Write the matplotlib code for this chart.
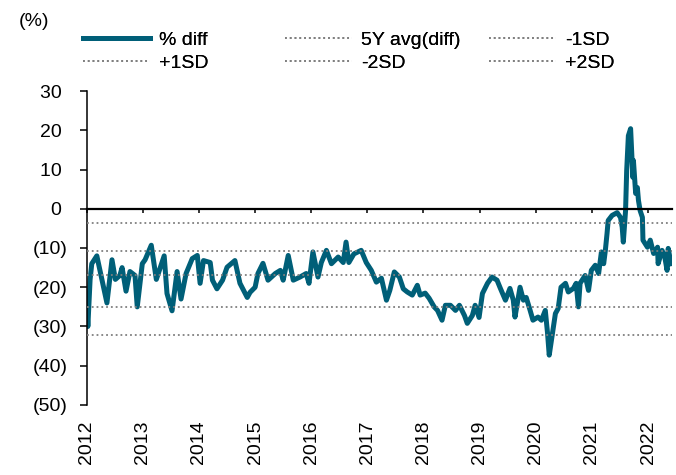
import matplotlib
matplotlib.use("Agg")
import matplotlib.pyplot as plt
from matplotlib.lines import Line2D

plt.rcParams['font.family'] = ['Liberation Sans', 'DejaVu Sans']

# % diff (decimal year, value)
t_years = [
    2012.00, 2012.02, 2012.06, 2012.09, 2012.18, 2012.27, 2012.36, 2012.45, 2012.51, 2012.59,
    2012.63, 2012.70, 2012.77, 2012.86, 2012.90, 2012.99, 2013.04, 2013.15, 2013.24, 2013.31,
    2013.38, 2013.43, 2013.52, 2013.61, 2013.68, 2013.77, 2013.88, 2013.97, 2014.02, 2014.08,
    2014.20, 2014.24, 2014.32, 2014.42, 2014.50, 2014.64, 2014.73, 2014.86, 2014.91, 2015.00,
    2015.05, 2015.14, 2015.23, 2015.36, 2015.45, 2015.50, 2015.59, 2015.68, 2015.80, 2015.91,
    2015.96, 2016.03, 2016.12, 2016.18, 2016.27, 2016.36, 2016.48, 2016.57, 2016.62, 2016.67,
    2016.76, 2016.89, 2016.98, 2017.07, 2017.16, 2017.25, 2017.34, 2017.40, 2017.48, 2017.57,
    2017.64, 2017.71, 2017.80, 2017.89, 2017.94, 2018.03, 2018.10, 2018.19, 2018.25, 2018.33,
    2018.39, 2018.48, 2018.57, 2018.64, 2018.73, 2018.78, 2018.87, 2018.92, 2018.99, 2019.05,
    2019.14, 2019.22, 2019.31, 2019.37, 2019.46, 2019.54, 2019.60, 2019.63, 2019.72, 2019.78,
    2019.83, 2019.90, 2019.95, 2020.04, 2020.10, 2020.17, 2020.21, 2020.24, 2020.28, 2020.35,
    2020.40, 2020.45, 2020.53, 2020.58, 2020.67, 2020.72, 2020.76, 2020.79, 2020.88, 2020.94,
    2020.99, 2021.06, 2021.12, 2021.17, 2021.21, 2021.24, 2021.27, 2021.29, 2021.36, 2021.45,
    2021.51, 2021.54, 2021.56, 2021.60, 2021.62, 2021.65, 2021.69, 2021.73, 2021.74, 2021.78,
    2021.81, 2021.83, 2021.86, 2021.90, 2021.91, 2021.99, 2022.04, 2022.10, 2022.17, 2022.18,
    2022.25, 2022.30, 2022.34, 2022.36, 2022.41,
]
diff_pct = [
    -24.0, -30.0, -18.0, -14.0, -12.0, -18.0, -24.0, -13.0, -18.0, -17.0,
    -15.0, -21.0, -16.0, -17.0, -25.0, -14.0, -13.0, -9.3, -18.0, -15.0,
    -12.0, -21.6, -26.0, -16.0, -23.0, -16.5, -12.7, -11.9, -19.0, -13.2,
    -13.7, -18.2, -20.4, -18.2, -14.9, -13.2, -19.0, -22.6, -21.3, -20.0,
    -16.5, -13.9, -18.2, -16.5, -15.7, -18.2, -11.9, -18.2, -17.4, -16.5,
    -19.0, -11.0, -17.4, -13.7, -10.6, -14.0, -12.3, -13.7, -8.5, -13.7,
    -11.5, -10.6, -13.7, -15.7, -18.7, -17.7, -23.3, -20.8, -16.1, -17.4,
    -20.4, -21.2, -22.0, -19.5, -22.0, -21.5, -22.8, -25.0, -25.9, -28.4,
    -24.6, -24.6, -25.9, -24.6, -27.2, -29.2, -27.2, -24.6, -27.7, -21.6,
    -19.0, -17.4, -18.2, -20.3, -23.3, -20.3, -23.3, -27.6, -20.0, -23.3,
    -22.6, -25.9, -28.4, -27.6, -28.4, -25.9, -31.7, -37.3, -33.5, -26.7,
    -25.4, -20.0, -19.0, -21.2, -20.3, -19.0, -25.0, -19.0, -17.0, -20.8,
    -15.7, -14.4, -16.5, -11.0, -14.0, -10.6, -6.3, -3.0, -1.7, -1.0,
    -2.2, -4.7, -8.5, -0.5, 9.7, 18.6, 20.4, 8.0, 12.3, 3.9,
    5.4, 2.1, -0.5, -2.2, -8.0, -9.8, -8.0, -11.4, -9.8, -14.0,
    -10.6, -12.4, -15.7, -10.1, -14.0,
]

# reference levels
avg_5y = -16.8
plus_1sd = -10.8
minus_1sd = -25.0
plus_2sd = -3.7
minus_2sd = -32.1

years = list(range(2012, 2023))
y_ticks = [30, 20, 10, 0, -10, -20, -30, -40, -50]

LINE_COLOR = '#005f78'
REF_COLOR = '#7f7f7f'
FS = 14


def fmt_pct(v):
    # accounting style: negatives in brackets
    if v < 0:
        return "(%d)" % abs(v)
    return "%d " % v


fig = plt.figure(figsize=(6.76, 4.75), dpi=100)
ax = fig.add_axes([0.1283, 0.1474, 0.866, 0.661])

ax.plot(t_years, diff_pct, color=LINE_COLOR, lw=3.6, solid_joinstyle='round', zorder=2)

for lvl in [plus_2sd, plus_1sd, avg_5y, minus_1sd, minus_2sd]:
    ax.axhline(lvl, color=REF_COLOR, ls=':', lw=1.3, zorder=3)

ax.set_xlim(2012, 2022.43)
ax.set_ylim(-50, 30)

for side in ['top', 'right']:
    ax.spines[side].set_visible(False)
ax.spines['left'].set_linewidth(1.1)
ax.spines['bottom'].set_position(('data', 0))
ax.spines['bottom'].set_linewidth(1.6)
ax.spines['bottom'].set_zorder(4)

ax.set_yticks(y_ticks)
ax.set_yticklabels([fmt_pct(v) for v in y_ticks], fontsize=FS)
ax.tick_params(axis='y', direction='out', length=5, width=1.1, pad=9)

ax.set_xticks(years)
ax.tick_params(axis='x', direction='out', length=3, width=1.1, labelbottom=False)

# year labels sit at the bottom of the plot, not on the zero line
sec = ax.secondary_xaxis('bottom')
sec.set_xticks(years)
sec.set_xticklabels([str(y) for y in years], rotation=90, fontsize=FS)
sec.tick_params(axis='x', length=0, pad=11)
for s in sec.spines.values():
    s.set_visible(False)

# legend laid out in three fixed-width columns like the original
h_diff = Line2D([], [], color=LINE_COLOR, lw=3.6)
h_ref = Line2D([], [], color=REF_COLOR, ls=':', lw=1.3)
columns = [
    ([h_diff, h_ref], ['% diff', '+1SD'], 0.1228),
    ([h_ref, h_ref], ['5Y avg(diff)', '-2SD'], 0.4216),
    ([h_ref, h_ref], ['-1SD', '+2SD'], 0.7234),
]
for handles, labels, x0 in columns:
    leg = fig.legend(handles, labels, loc='upper left', bbox_to_anchor=(x0, 0.934),
                     frameon=False, fontsize=FS, handlelength=3.45, handletextpad=0.45,
                     borderpad=0, borderaxespad=0, labelspacing=0.28)
    fig.add_artist(leg)

fig.text(0.027, 0.955, '(%)', fontsize=FS, ha='left', va='center')

fig.savefig('out.png', dpi=100)
